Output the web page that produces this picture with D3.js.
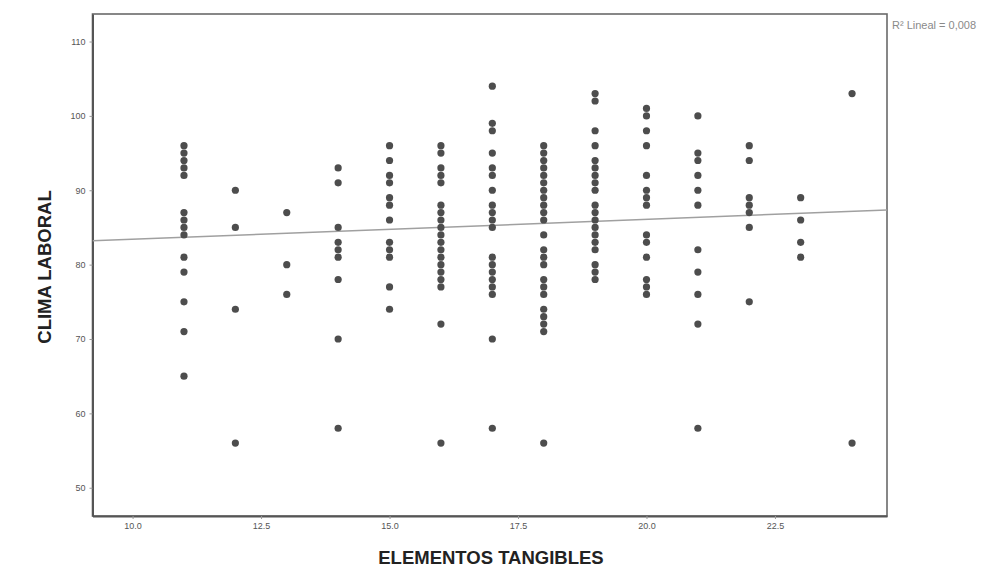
<!DOCTYPE html>
<html>
<head>
<meta charset="utf-8">
<script src="https://cdn.jsdelivr.net/npm/d3@7"></script>
<style>
  html, body { margin: 0; padding: 0; background: #fff; }
  svg { display: block; }
</style>
</head>
<body>
<svg id="chart" width="992" height="575"></svg>
<script>
// ---- Data ----
const xCategories = [11, 12, 13, 14, 15, 16, 17, 18, 19, 20, 21, 22, 23, 24];
const col11 = [96, 95, 94, 93, 92, 87, 86, 85, 84, 81, 79, 75, 71, 65];
const col12 = [90, 85, 74, 56];
const col13 = [87, 80, 76];
const col14 = [93, 91, 85, 83, 82, 81, 78, 70, 58];
const col15 = [96, 94, 92, 91, 89, 88, 86, 83, 82, 81, 77, 74];
const col16 = [96, 95, 93, 92, 91, 88, 87, 86, 85, 84, 83, 82, 81, 80, 79, 78, 77, 72, 56];
const col17 = [104, 99, 98, 95, 93, 92, 90, 88, 87, 86, 85, 81, 80, 79, 78, 77, 76, 70, 58];
const col18 = [96, 95, 94, 93, 92, 91, 90, 89, 88, 87, 86, 84, 82, 81, 80, 78, 77, 76, 74, 73, 72, 71, 56];
const col19 = [103, 102, 98, 96, 94, 93, 92, 91, 90, 88, 87, 86, 85, 84, 83, 82, 80, 79, 78];
const col20 = [101, 100, 98, 96, 92, 90, 89, 88, 84, 83, 81, 78, 77, 76];
const col21 = [100, 95, 94, 92, 90, 88, 82, 79, 76, 72, 58];
const col22 = [96, 94, 89, 88, 87, 85, 75];
const col23 = [89, 86, 83, 81];
const col24 = [103, 56];
const yColumns = [col11, col12, col13, col14, col15, col16, col17, col18, col19, col20, col21, col22, col23, col24];

const xTicks = [10.0, 12.5, 15.0, 17.5, 20.0, 22.5];
const yTicks = [50, 60, 70, 80, 90, 100, 110];
const fitIntercept = 80.73;
const fitSlope = 0.268;
const fitLabel = "R\u00B2 Lineal = 0,008";
const xTitle = "ELEMENTOS TANGIBLES";
const yTitle = "CLIMA LABORAL";

(function () {
  // ---- Build point table ----
  const points = [];
  xCategories.forEach((xv, i) => yColumns[i].forEach(yv => points.push({x: xv, y: yv})));

  // ---- Layout ----
  const svg = d3.select("#chart");
  const pL = 92.5, pR = 887, pT = 14, pB = 516;
  const xDomain = [9.22, 24.68];
  const yDomain = [46.2, 113.7];
  const x = d3.scaleLinear().domain(xDomain).range([pL, pR]);
  const y = d3.scaleLinear().domain(yDomain).range([pB, pT]);

  const font = "'Liberation Sans', Arial, sans-serif";

  // frame
  svg.append("rect")
    .attr("x", pL).attr("y", pT)
    .attr("width", pR - pL).attr("height", pB - pT)
    .attr("fill", "none").attr("stroke", "#6a6a6a").attr("stroke-width", 1.6);

  // axes
  const yAxis = d3.axisLeft(y).tickValues(yTicks).tickSize(3).tickSizeOuter(0).tickPadding(4).tickFormat(d3.format("d"));
  const gy = svg.append("g").attr("transform", `translate(${pL},0)`).call(yAxis);
  gy.select(".domain").attr("stroke", "#555").attr("stroke-width", 2);
  gy.selectAll(".tick line").attr("stroke", "#999");
  gy.selectAll(".tick text").attr("font-family", font).attr("font-size", 9).attr("fill", "#555");

  const xAxis = d3.axisBottom(x).tickValues(xTicks).tickSize(3).tickSizeOuter(0).tickPadding(4).tickFormat(d3.format(".1f"));
  const gx = svg.append("g").attr("transform", `translate(0,${pB})`).call(xAxis);
  gx.select(".domain").attr("stroke", "#555").attr("stroke-width", 2);
  gx.selectAll(".tick line").attr("stroke", "#999");
  gx.selectAll(".tick text").attr("font-family", font).attr("font-size", 9).attr("fill", "#555");

  // fit line
  svg.append("clipPath").attr("id", "plotclip")
    .append("rect").attr("x", pL).attr("y", pT).attr("width", pR - pL).attr("height", pB - pT);
  svg.append("line")
    .attr("clip-path", "url(#plotclip)")
    .attr("x1", x(xDomain[0])).attr("y1", y(fitIntercept + fitSlope * xDomain[0]))
    .attr("x2", x(xDomain[1])).attr("y2", y(fitIntercept + fitSlope * xDomain[1]))
    .attr("stroke", "#a0a0a0").attr("stroke-width", 1.5);

  // points
  svg.append("g").selectAll("circle").data(points).join("circle")
    .attr("cx", d => x(d.x)).attr("cy", d => y(d.y)).attr("r", 3.6)
    .attr("fill", "#4d4d4d");

  // fit label
  svg.append("text").attr("x", pR + 5).attr("y", 29)
    .attr("font-family", font).attr("font-size", 11).attr("fill", "#8a8a8a")
    .text(fitLabel);

  // titles
  svg.append("text").attr("x", 491).attr("y", 564)
    .attr("text-anchor", "middle").attr("font-family", font).attr("font-weight", "bold")
    .attr("font-size", 18.5).attr("fill", "#222").text(xTitle);

  svg.append("text").attr("transform", `translate(51,267) rotate(-90)`)
    .attr("text-anchor", "middle").attr("font-family", font).attr("font-weight", "bold")
    .attr("font-size", 18.5).attr("fill", "#222").text(yTitle);
})();
</script>
</body>
</html>
